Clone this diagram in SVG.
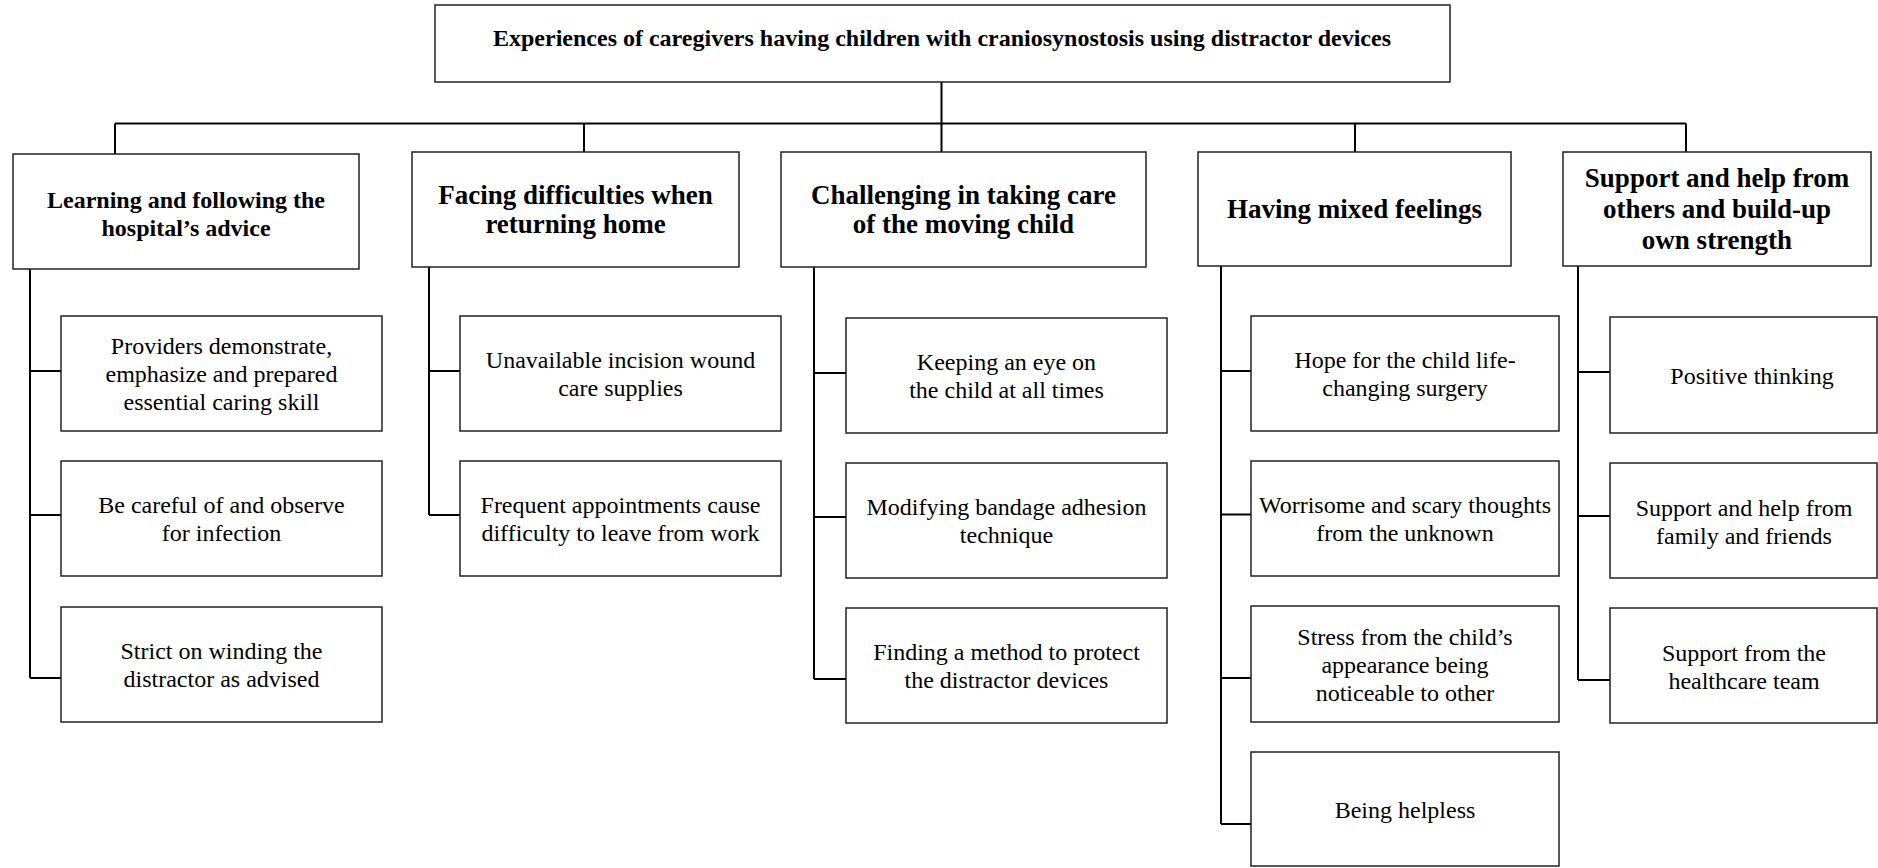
<svg xmlns="http://www.w3.org/2000/svg" width="1878" height="868" viewBox="0 0 1878 868">
<style>
rect{fill:#fff;stroke:#222;stroke-width:1.5}
.c{stroke:#000;stroke-width:2;fill:none}
text{font-family:'Liberation Serif','Times New Roman',Tinos,'DejaVu Serif',serif;fill:#000;text-anchor:middle}
.t{font-size:24px;font-weight:bold}
.h{font-size:27px;font-weight:bold}
.h1{font-size:24px;font-weight:bold}
.s{font-size:24px}
</style>
<rect x="0" y="0" width="1878" height="868" style="fill:#fff;stroke:none"/>
<g id="connectors">
<path class="c" d="M941.5 82V123.5M115 123.5H1686M115 123.5V154M584 123.5V152M941.5 123.5V152M1355 123.5V152M1686 123.5V152"/>
<path class="c" d="M30 269V678M30 371H61M30 515H61M30 678H61"/>
<path class="c" d="M429 267V515M429 371H460M429 515H460"/>
<path class="c" d="M814 267V679M814 373H846M814 517H846M814 679H846"/>
<path class="c" d="M1221 266V824M1221 371H1251M1221 514.5H1251M1221 678H1251M1221 824H1251"/>
<path class="c" d="M1578 266V680M1578 372H1610M1578 516H1610M1578 680H1610"/>
</g>
<g id="root"><rect x="435" y="5" width="1015" height="77"/><text class="t" x="942" y="46">Experiences of caregivers having children with craniosynostosis using distractor devices</text></g>
<g id="theme1"><rect x="13" y="154" width="346" height="115"/><text class="h1" x="186" y="208">Learning and following the</text><text class="h1" x="186" y="236">hospital’s advice</text></g>
<g id="theme2"><rect x="412" y="152" width="327" height="115"/><text class="h" x="575.5" y="204">Facing difficulties when</text><text class="h" x="575.5" y="233">returning home</text></g>
<g id="theme3"><rect x="781" y="152" width="365" height="115"/><text class="h" x="963.5" y="204">Challenging in taking care</text><text class="h" x="963.5" y="233">of the moving child</text></g>
<g id="theme4"><rect x="1198" y="152" width="313" height="114"/><text class="h" x="1354.5" y="218">Having mixed feelings</text></g>
<g id="theme5"><rect x="1563" y="152" width="308" height="114"/><text class="h" x="1717" y="187">Support and help from</text><text class="h" x="1717" y="218">others and build-up</text><text class="h" x="1717" y="248.5">own strength</text></g>
<g id="t1s1"><rect x="61" y="316" width="321" height="115"/><text class="s" x="221.5" y="354">Providers demonstrate,</text><text class="s" x="221.5" y="382">emphasize and prepared</text><text class="s" x="221.5" y="410">essential caring skill</text></g>
<g id="t1s2"><rect x="61" y="461" width="321" height="115"/><text class="s" x="221.5" y="513">Be careful of and observe</text><text class="s" x="221.5" y="541">for infection</text></g>
<g id="t1s3"><rect x="61" y="607" width="321" height="115"/><text class="s" x="221.5" y="659">Strict on winding the</text><text class="s" x="221.5" y="687">distractor as advised</text></g>
<g id="t2s1"><rect x="460" y="316" width="321" height="115"/><text class="s" x="620.5" y="368">Unavailable incision wound</text><text class="s" x="620.5" y="396">care supplies</text></g>
<g id="t2s2"><rect x="460" y="461" width="321" height="115"/><text class="s" x="620.5" y="513">Frequent appointments cause</text><text class="s" x="620.5" y="541">difficulty to leave from work</text></g>
<g id="t3s1"><rect x="846" y="318" width="321" height="115"/><text class="s" x="1006.5" y="370">Keeping an eye on</text><text class="s" x="1006.5" y="398">the child at all times</text></g>
<g id="t3s2"><rect x="846" y="463" width="321" height="115"/><text class="s" x="1006.5" y="515">Modifying bandage adhesion</text><text class="s" x="1006.5" y="543">technique</text></g>
<g id="t3s3"><rect x="846" y="608" width="321" height="115"/><text class="s" x="1006.5" y="660">Finding a method to protect</text><text class="s" x="1006.5" y="688">the distractor devices</text></g>
<g id="t4s1"><rect x="1251" y="316" width="308" height="115"/><text class="s" x="1405" y="368">Hope for the child life-</text><text class="s" x="1405" y="396">changing surgery</text></g>
<g id="t4s2"><rect x="1251" y="461" width="308" height="115"/><text class="s" x="1405" y="513">Worrisome and scary thoughts</text><text class="s" x="1405" y="541">from the unknown</text></g>
<g id="t4s3"><rect x="1251" y="606" width="308" height="116"/><text class="s" x="1405" y="644.5">Stress from the child’s</text><text class="s" x="1405" y="672.5">appearance being</text><text class="s" x="1405" y="700.5">noticeable to other</text></g>
<g id="t4s4"><rect x="1251" y="752" width="308" height="114"/><text class="s" x="1405" y="817.5">Being helpless</text></g>
<g id="t5s1"><rect x="1610" y="317" width="267" height="116"/><text class="s" x="1752" y="384">Positive thinking</text></g>
<g id="t5s2"><rect x="1610" y="463" width="267" height="115"/><text class="s" x="1744" y="515.5">Support and help from</text><text class="s" x="1744" y="543.5">family and friends</text></g>
<g id="t5s3"><rect x="1610" y="608" width="267" height="115"/><text class="s" x="1744" y="660.5">Support from the</text><text class="s" x="1744" y="688.5">healthcare team</text></g>
</svg>
